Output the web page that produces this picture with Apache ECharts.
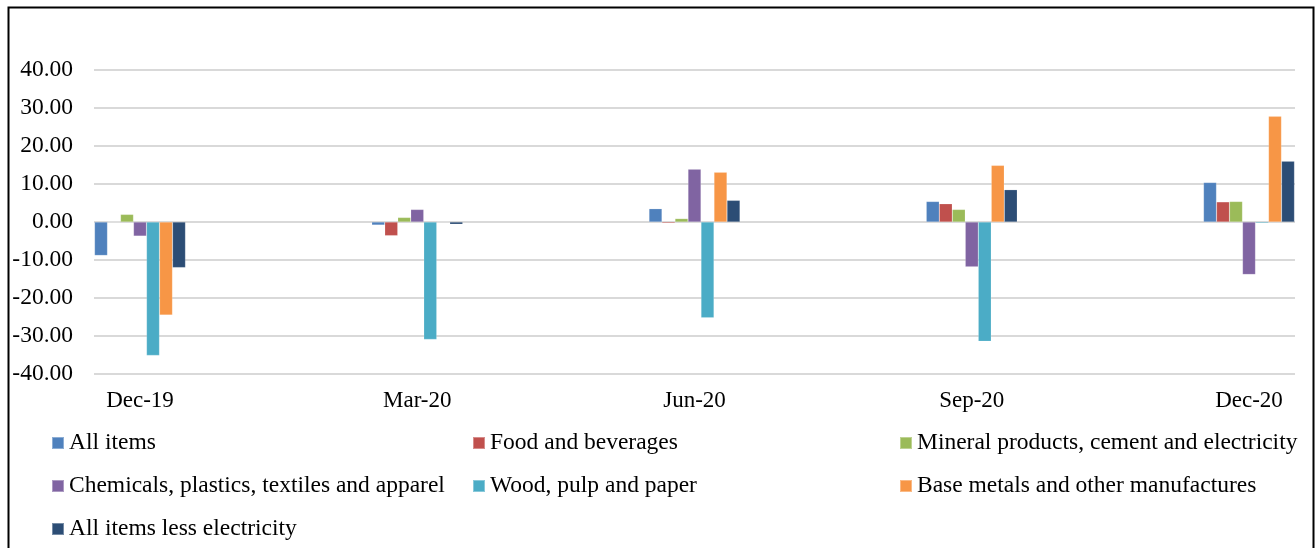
<!DOCTYPE html>
<html>
<head>
<meta charset="utf-8">
<script src="https://cdn.jsdelivr.net/npm/echarts@6/dist/echarts.min.js"></script>
<style>
  html, body { margin: 0; padding: 0; background: #ffffff; }
  #chart { width: 1315px; height: 548px; }
</style>
</head>
<body>
<div id="chart"></div>
<script>
// Quarterly percentage changes by product group
const categories = ['Dec-19', 'Mar-20', 'Jun-20', 'Sep-20', 'Dec-20'];

const seriesNames = [
  'All items',
  'Food and beverages',
  'Mineral products, cement and electricity',
  'Chemicals, plastics, textiles and apparel',
  'Wood, pulp and paper',
  'Base metals and other manufactures',
  'All items less electricity'
];

const allItems        = [-8.8, -0.8, 3.5, 5.4, 10.4];
const foodBeverages   = [0.0, -3.6, -0.3, 4.8, 5.3];
const mineralProducts = [2.0, 1.2, 0.9, 3.3, 5.4];
const chemicals       = [-3.7, 3.3, 13.9, -11.8, -13.8];
const woodPulpPaper   = [-35.1, -30.9, -25.2, -31.4, -0.3];
const baseMetals      = [-24.5, 0.0, 13.1, 14.9, 27.8];
const allLessElec     = [-12.0, -0.6, 5.7, 8.5, 16.0];

const yTicks = [-40, -30, -20, -10, 0, 10, 20, 30, 40];

const seriesValues = [allItems, foodBeverages, mineralProducts, chemicals, woodPulpPaper, baseMetals, allLessElec];
const colors = ['#4F81BD', '#C0504D', '#9BBB59', '#8064A2', '#4BACC6', '#F79646', '#2C4D75'];

const FONT = '"Liberation Serif", "Times New Roman", serif';

const chart = echarts.init(document.getElementById('chart'), null, { renderer: 'canvas' });

const legendText = { fontFamily: FONT, fontSize: 23.5, color: '#000', lineHeight: 24 };
function legendColumn(names, left) {
  return {
    orient: 'vertical',
    left: left,
    top: 431,
    padding: 0,
    itemGap: 19,
    itemWidth: 12,
    itemHeight: 12,
    icon: 'rect',
    textStyle: legendText,
    data: names
  };
}

chart.setOption({
  animation: false,
  color: colors,
  graphic: [{
    type: 'rect',
    left: 6, top: 5,
    shape: { width: 1305, height: 580 },
    style: { fill: 'none', stroke: '#000', lineWidth: 2 },
    z: 100
  }],
  legend: [
    legendColumn([seriesNames[0], seriesNames[3], seriesNames[6]], 51),
    legendColumn([seriesNames[1], seriesNames[4]], 472),
    legendColumn([seriesNames[2], seriesNames[5]], 899)
  ],
  grid: [
    { left: 94, right: 20, top: 70, bottom: 174 },
    { left: 140, right: 66, top: 70, bottom: 174 }
  ],
  xAxis: [
    { gridIndex: 0, type: 'category', data: categories, show: false },
    {
      gridIndex: 1,
      type: 'category',
      data: categories,
      boundaryGap: false,
      axisLine: { show: false, onZero: false },
      axisTick: { show: false },
      splitLine: { show: false },
      axisLabel: { fontFamily: FONT, fontSize: 23, color: '#000', margin: 15 }
    }
  ],
  yAxis: [
    {
      gridIndex: 0,
      type: 'value',
      min: yTicks[0],
      max: yTicks[yTicks.length - 1],
      interval: 10,
      axisLine: { show: false },
      axisTick: { show: false },
      splitLine: { show: true, lineStyle: { color: '#D9D9D9', width: 2 } },
      axisLabel: {
        fontFamily: FONT, fontSize: 23.5, color: '#000', margin: 21,
        formatter: v => v.toFixed(2)
      }
    },
    {
      gridIndex: 1,
      type: 'value',
      min: yTicks[0],
      max: yTicks[yTicks.length - 1],
      interval: 10,
      show: false,
      splitLine: { show: false }
    }
  ],
  series: seriesNames.map((name, i) => ({
    name: name,
    type: 'bar',
    xAxisIndex: 1,
    yAxisIndex: 1,
    clip: false,
    barWidth: 13,
    barGap: '0%',
    data: seriesValues[i],
    itemStyle: { color: colors[i], borderColor: 'rgba(255,255,255,0.35)', borderWidth: 0.5 }
  }))
});
</script>
</body>
</html>
